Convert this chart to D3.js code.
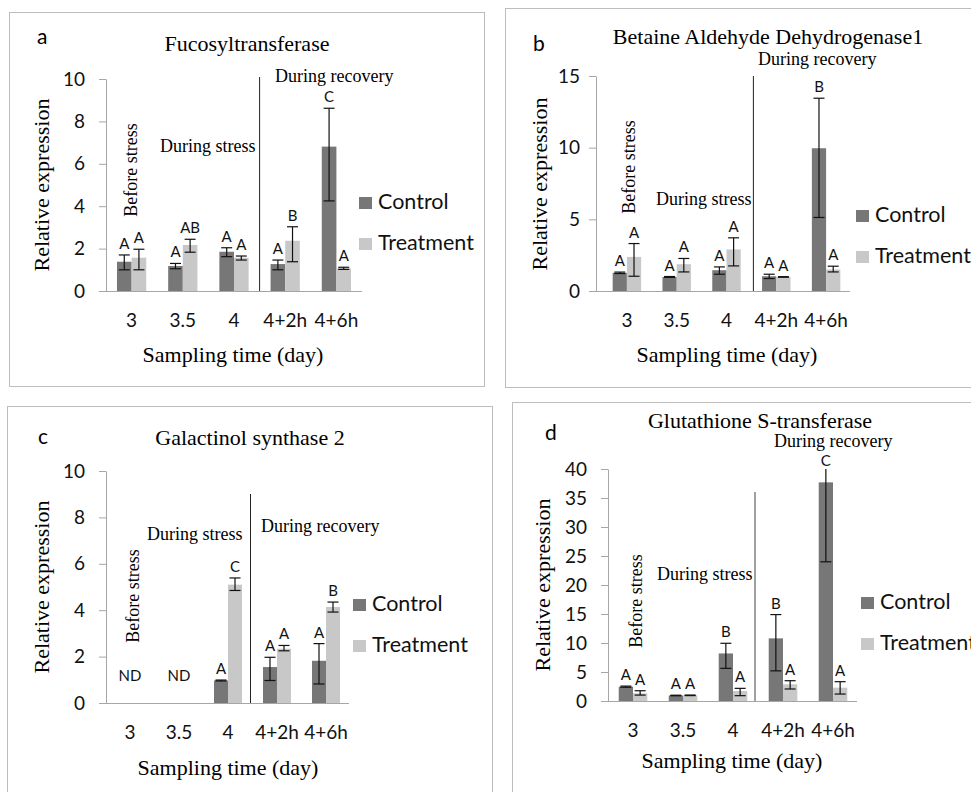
<!DOCTYPE html>
<html>
<head>
<meta charset="utf-8">
<script src="https://cdn.jsdelivr.net/npm/d3@7"></script>
<style>
  body { margin: 0; background: #fff; }
  svg { display: block; }
  .serif { font-family: "Liberation Serif", "Times New Roman", serif; }
  .sans { font-family: Lato, "Open Sans", sans-serif; }
</style>
</head>
<body>
<script>
const categories = ["3", "3.5", "4", "4+2h", "4+6h"];
const seriesNames = ["Control", "Treatment"];

// a - Fucosyltransferase
const fucoControl = [1.38, 1.18, 1.85, 1.27, 6.81];
const fucoControlUp = [0.32, 0.12, 0.19, 0.19, 1.81];
const fucoControlDown = [0.38, 0.13, 0.23, 0.27, 2.56];
const fucoTreatment = [1.57, 2.17, 1.57, 2.37, 1.07];
const fucoTreatmentUp = [0.4, 0.27, 0.08, 0.66, 0.05];
const fucoTreatmentDown = [0.57, 0.34, 0.11, 0.99, 0.05];
const fucoControlLetters = ["A", "A", "A", "A", "C"];
const fucoTreatmentLetters = ["A", "AB", "A", "B", "A"];

// b - Betaine Aldehyde Dehydrogenase1
const badhControl = [1.27, 0.98, 1.45, 1.03, 9.96];
const badhControlUp = [0.05, 0.03, 0.23, 0.14, 3.49];
const badhControlDown = [0.05, 0.03, 0.28, 0.16, 4.83];
const badhTreatment = [2.38, 1.87, 2.9, 0.98, 1.5];
const badhTreatmentUp = [0.93, 0.4, 0.81, 0.02, 0.23];
const badhTreatmentDown = [1.35, 0.54, 1.15, 0.02, 0.17];
const badhControlLetters = ["A", "A", "A", "A", "B"];
const badhTreatmentLetters = ["A", "A", "A", "A", "A"];

// c - Galactinol synthase 2
const golsControl = [0, 0, 0.97, 1.55, 1.82];
const golsControlUp = [0, 0, 0.02, 0.42, 0.74];
const golsControlDown = [0, 0, 0.02, 0.58, 1.0];
const golsTreatment = [0, 0, 5.1, 2.34, 4.14];
const golsTreatmentUp = [0, 0, 0.29, 0.14, 0.21];
const golsTreatmentDown = [0, 0, 0.25, 0.09, 0.22];
const golsControlLetters = ["", "", "A", "A", "A"];
const golsTreatmentLetters = ["", "", "C", "A", "B"];
const golsGroupLabels = ["ND", "ND", "", "", ""];

// d - Glutathione S-transferase
const gstControl = [2.47, 0.95, 8.2, 10.8, 37.7];
const gstControlUp = [0.1, 0.05, 1.75, 4.1, 10];
const gstControlDown = [0.1, 0.05, 2.57, 5.6, 13.7];
const gstTreatment = [1.32, 0.98, 1.72, 2.88, 2.3];
const gstTreatmentUp = [0.45, 0.05, 0.46, 0.62, 1.03];
const gstTreatmentDown = [0.3, 0.05, 0.8, 0.81, 1.1];
const gstControlLetters = ["A", "A", "B", "B", "C"];
const gstTreatmentLetters = ["A", "A", "A", "A", "A"];

const colors = ["#777777", "#c8c8c8"];

const svg = d3.select("body").append("svg")
    .attr("width", 971)
    .attr("height", 792);

const panels = [
  { tag: "a", title: "Fucosyltransferase",
    box: [9.5, 12.5, 475, 374], tagPos: [37, 44], titlePos: [247, 51],
    x0: 106, x1: 362, band: [106, 362], yTop: 79, yBot: 291, max: 10, step: 2, labelGap: 14,
    divTop: 77, divShift: 0, divColor: "#222", divWidth: 1,
    recovery: [275, 82], stress: [160, 152], before: [137, 170],
    legend: [359, 197], xTitle: [233, 362], yTitle: [49, 185],
    ctrl: fucoControl, ctrlUp: fucoControlUp, ctrlDown: fucoControlDown,
    trt: fucoTreatment, trtUp: fucoTreatmentUp, trtDown: fucoTreatmentDown,
    ctrlLetters: fucoControlLetters, trtLetters: fucoTreatmentLetters },
  { tag: "b", title: "Betaine Aldehyde Dehydrogenase1",
    box: [505.5, 8.5, 500, 379], tagPos: [533, 51], titlePos: [768, 44],
    x0: 596, x1: 850, band: [602, 851], yTop: 76, yBot: 291, max: 15, step: 5, labelGap: 9,
    divTop: 76, divShift: 2, divColor: "#222", divWidth: 1,
    recovery: [758, 65], stress: [656, 205], before: [635, 167],
    legend: [856, 210], xTitle: [727, 362], yTitle: [547, 184],
    ctrl: badhControl, ctrlUp: badhControlUp, ctrlDown: badhControlDown,
    trt: badhTreatment, trtUp: badhTreatmentUp, trtDown: badhTreatmentDown,
    ctrlLetters: badhControlLetters, trtLetters: badhTreatmentLetters },
  { tag: "c", title: "Galactinol synthase 2",
    box: [7.5, 406.5, 485, 420], tagPos: [38, 444], titlePos: [250, 445],
    x0: 106, x1: 349, band: [105.5, 350.5], yTop: 471, yBot: 703, max: 10, step: 2, labelGap: 14,
    divTop: 494, divShift: -2, divColor: "#222", divWidth: 1,
    recovery: [261, 532], stress: [147, 540], before: [139, 596],
    legend: [353, 599], xTitle: [228, 775], yTitle: [49, 587],
    ctrl: golsControl, ctrlUp: golsControlUp, ctrlDown: golsControlDown,
    trt: golsTreatment, trtUp: golsTreatmentUp, trtDown: golsTreatmentDown,
    ctrlLetters: golsControlLetters, trtLetters: golsTreatmentLetters,
    groupLabels: golsGroupLabels },
  { tag: "d", title: "Glutathione S-transferase",
    box: [512.5, 402.5, 500, 420], tagPos: [545, 440], titlePos: [760, 428],
    x0: 608, x1: 857, band: [608, 858], yTop: 469, yBot: 701, max: 40, step: 5, labelGap: 14,
    divTop: 492, divShift: -3, divColor: "#808080", divWidth: 1.5,
    recovery: [774, 447], stress: [657, 580], before: [642, 601],
    legend: [861, 597], xTitle: [732, 768], yTitle: [550, 585],
    ctrl: gstControl, ctrlUp: gstControlUp, ctrlDown: gstControlDown,
    trt: gstTreatment, trtUp: gstTreatmentUp, trtDown: gstTreatmentDown,
    ctrlLetters: gstControlLetters, trtLetters: gstTreatmentLetters }
];

function drawPanel(p) {
  const g = svg.append("g");

  g.append("rect")
      .attr("x", p.box[0]).attr("y", p.box[1])
      .attr("width", p.box[2]).attr("height", p.box[3])
      .attr("fill", "none").attr("stroke", "#bdbdbd");

  g.append("text").attr("class", "sans")
      .attr("x", p.tagPos[0]).attr("y", p.tagPos[1])
      .attr("font-size", 21).text(p.tag);

  g.append("text").attr("class", "serif")
      .attr("x", p.titlePos[0]).attr("y", p.titlePos[1])
      .attr("text-anchor", "middle").attr("font-size", 22)
      .text(p.title);

  const x = d3.scaleBand().domain(categories).range(p.band);
  const y = d3.scaleLinear().domain([0, p.max]).range([p.yBot, p.yTop]);
  const w = x.bandwidth() / 3.5;

  // y axis
  const yAxis = g.append("g")
      .attr("transform", "translate(" + p.x0 + ",0)")
      .call(d3.axisLeft(y).tickValues(d3.range(0, p.max + 0.001, p.step))
          .tickSize(7).tickSizeOuter(0).tickPadding(p.labelGap));
  yAxis.select(".domain").attr("stroke", "#a6a6a6");
  yAxis.selectAll(".tick line").attr("stroke", "#a6a6a6");
  yAxis.selectAll(".tick text")
      .attr("class", "sans").attr("font-size", 19).attr("fill", "#111");

  // bars
  const rows = categories.map((c, i) => ({
    cat: c,
    vals: [
      { v: p.ctrl[i], up: p.ctrlUp[i], down: p.ctrlDown[i], letter: p.ctrlLetters[i], s: 0 },
      { v: p.trt[i], up: p.trtUp[i], down: p.trtDown[i], letter: p.trtLetters[i], s: 1 }
    ]
  }));

  const groups = g.selectAll(".grp").data(rows).enter().append("g")
      .attr("transform", d => "translate(" + (x(d.cat) + x.bandwidth() / 2) + ",0)");

  const bars = groups.selectAll(".bar").data(d => d.vals).enter();

  bars.append("rect")
      .attr("x", d => d.s === 0 ? -w : 0)
      .attr("y", d => y(d.v))
      .attr("width", w)
      .attr("height", d => y(0) - y(d.v))
      .attr("fill", d => colors[d.s]);

  // error bars (clipped at the axis maximum, like the original)
  const errs = bars.filter(d => d.v > 0).append("g")
      .attr("transform", d => "translate(" + (d.s === 0 ? -w / 2 : w / 2) + ",0)");
  errs.append("line")
      .attr("x1", 0).attr("x2", 0)
      .attr("y1", d => y(Math.min(d.v + d.up, p.max)))
      .attr("y2", d => y(d.v - d.down))
      .attr("stroke", "#111").attr("stroke-width", 1.2);
  errs.filter(d => d.v + d.up <= p.max).append("line")
      .attr("x1", -5.5).attr("x2", 5.5)
      .attr("y1", d => y(d.v + d.up)).attr("y2", d => y(d.v + d.up))
      .attr("stroke", "#111").attr("stroke-width", 1.2);
  errs.append("line")
      .attr("x1", -5.5).attr("x2", 5.5)
      .attr("y1", d => y(d.v - d.down)).attr("y2", d => y(d.v - d.down))
      .attr("stroke", "#111").attr("stroke-width", 1.2);

  // significance letters
  groups.selectAll(".ltr").data(d => d.vals.filter(v => v.letter)).enter()
      .append("text").attr("class", "sans")
      .attr("x", d => d.s === 0 ? -w / 2 : w / 2)
      .attr("y", d => d.v + d.up > p.max ? y(p.max) - 3 : y(d.v + d.up) - 6)
      .attr("text-anchor", "middle").attr("font-size", 15).attr("fill", "#111")
      .text(d => d.letter);

  if (p.groupLabels) {
    groups.append("text").attr("class", "sans")
        .attr("x", 0).attr("y", y(0) - 22)
        .attr("text-anchor", "middle").attr("font-size", 15).attr("fill", "#111")
        .text((d, i) => p.groupLabels[i]);
  }

  // x axis
  const xAxis = g.append("g")
      .attr("transform", "translate(0," + p.yBot + ")")
      .call(d3.axisBottom(x).tickSize(0).tickSizeOuter(0).tickPadding(23));
  xAxis.select(".domain")
      .attr("d", "M" + p.x0 + ",0.5H" + p.x1)
      .attr("stroke", "#a6a6a6");
  xAxis.selectAll(".tick text")
      .attr("class", "sans").attr("font-size", 19).attr("fill", "#111");

  // divider between stress and recovery
  const divX = x(categories[3]) + p.divShift;
  g.append("line")
      .attr("x1", divX).attr("x2", divX)
      .attr("y1", p.divTop).attr("y2", p.yBot)
      .attr("stroke", p.divColor).attr("stroke-width", p.divWidth);

  g.append("text").attr("class", "serif")
      .attr("x", p.recovery[0]).attr("y", p.recovery[1])
      .attr("font-size", 18).text("During recovery");
  g.append("text").attr("class", "serif")
      .attr("x", p.stress[0]).attr("y", p.stress[1])
      .attr("font-size", 18).text("During stress");
  g.append("text").attr("class", "serif")
      .attr("transform", "translate(" + p.before[0] + "," + p.before[1] + ") rotate(-90)")
      .attr("text-anchor", "middle").attr("font-size", 18)
      .text("Before stress");

  // legend
  const leg = g.selectAll(".leg").data(seriesNames).enter().append("g")
      .attr("transform", (d, i) => "translate(" + p.legend[0] + "," + (p.legend[1] + i * 41) + ")");
  leg.append("rect").attr("width", 13).attr("height", 12)
      .attr("fill", (d, i) => colors[i]);
  leg.append("text").attr("class", "sans")
      .attr("x", 19).attr("y", 12)
      .attr("font-size", 21.5).attr("fill", "#111")
      .text(d => d);

  // axis titles
  g.append("text").attr("class", "serif")
      .attr("x", p.xTitle[0]).attr("y", p.xTitle[1])
      .attr("text-anchor", "middle").attr("font-size", 22)
      .text("Sampling time (day)");
  g.append("text").attr("class", "serif")
      .attr("transform", "translate(" + p.yTitle[0] + "," + p.yTitle[1] + ") rotate(-90)")
      .attr("text-anchor", "middle").attr("font-size", 22)
      .text("Relative expression");
}

panels.forEach(drawPanel);
</script>
</body>
</html>
